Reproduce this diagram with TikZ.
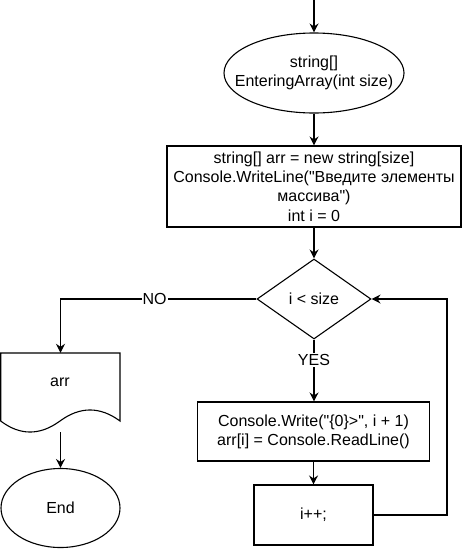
\documentclass[tikz,border=0pt]{standalone}
\usepackage{fontspec}
\setmainfont{Liberation Sans}[Ligatures=TeXOff]
\usetikzlibrary{shapes.geometric,arrows.meta}
\begin{document}
\begin{tikzpicture}[x=1pt,y=-1pt,
  every node/.style={font=\fontsize{16}{19.2}\selectfont},
  line/.style={draw=black, line width=1.1pt},
  flow/.style={line, -{Stealth[length=9pt,width=9pt,inset=3pt]}},
  box/.style={draw=black, line width=1.1pt, rectangle, inner sep=0pt, align=center},
  oval/.style={draw=black, line width=1.1pt, ellipse, inner sep=0pt},
  lbl/.style={fill=white, inner sep=1pt}]
\useasboundingbox (0,0) rectangle (462,549);

\node[oval, minimum width=180, minimum height=80] (start) at (314,73) {};
\node[align=center] (starttxt) at (start) {string[]\\EnteringArray(int size)};

\node[box, minimum width=294, minimum height=81] (init) at (314,186.5)
  {string[] arr = new string[size]\\Console.WriteLine("Введите элементы\\массива")\\int i = 0};

\node[diamond, draw=black, line width=1.1pt, minimum width=114, minimum height=80, aspect=1.425, inner sep=0pt] (cond) at (314,299) {i < size};

\node[box, minimum width=232, minimum height=59] (body) at (313.5,431.5)
  {Console.Write("\{0\}>", i + 1)\\arr[i] = Console.ReadLine()};

\node[box, minimum width=119, minimum height=60] (inc) at (313.5,515) {i++;};

\node[minimum width=119.5, minimum height=79, inner sep=0pt] (out) at (60.5,392.5) {};
\draw[line] (0.7,353) -- (120,353) -- (120,421)
  .. controls (100,406.3) and (80,406.3) .. (60,421)
  .. controls (40,435.7) and (20,435.7) .. (0.7,421) -- cycle;
\node (outtxt) at (60,382) {arr};

\node[oval, minimum width=119, minimum height=79] (end) at (60.5,508) {End};

\coordinate (top) at (314,0);
\coordinate (loop) at (447,515);

\draw[flow] (top) -- (start.north);
\draw[flow] (start.south) -- (init.north);
\draw[flow] (init.south) -- (cond.north);
\draw[flow] (cond.west) -| (out.north) node[lbl, pos=0.26] {NO};
\draw[flow] (cond.south) -- (cond.south |- body.north) node[lbl, pos=0.33] {YES};
\draw[flow] (body.south) -- (body.south |- inc.north);
\draw[flow] (inc.east) -- (loop) |- (cond.east);
\draw[flow] (out.south) -- (end.north);
\end{tikzpicture}
\end{document}
